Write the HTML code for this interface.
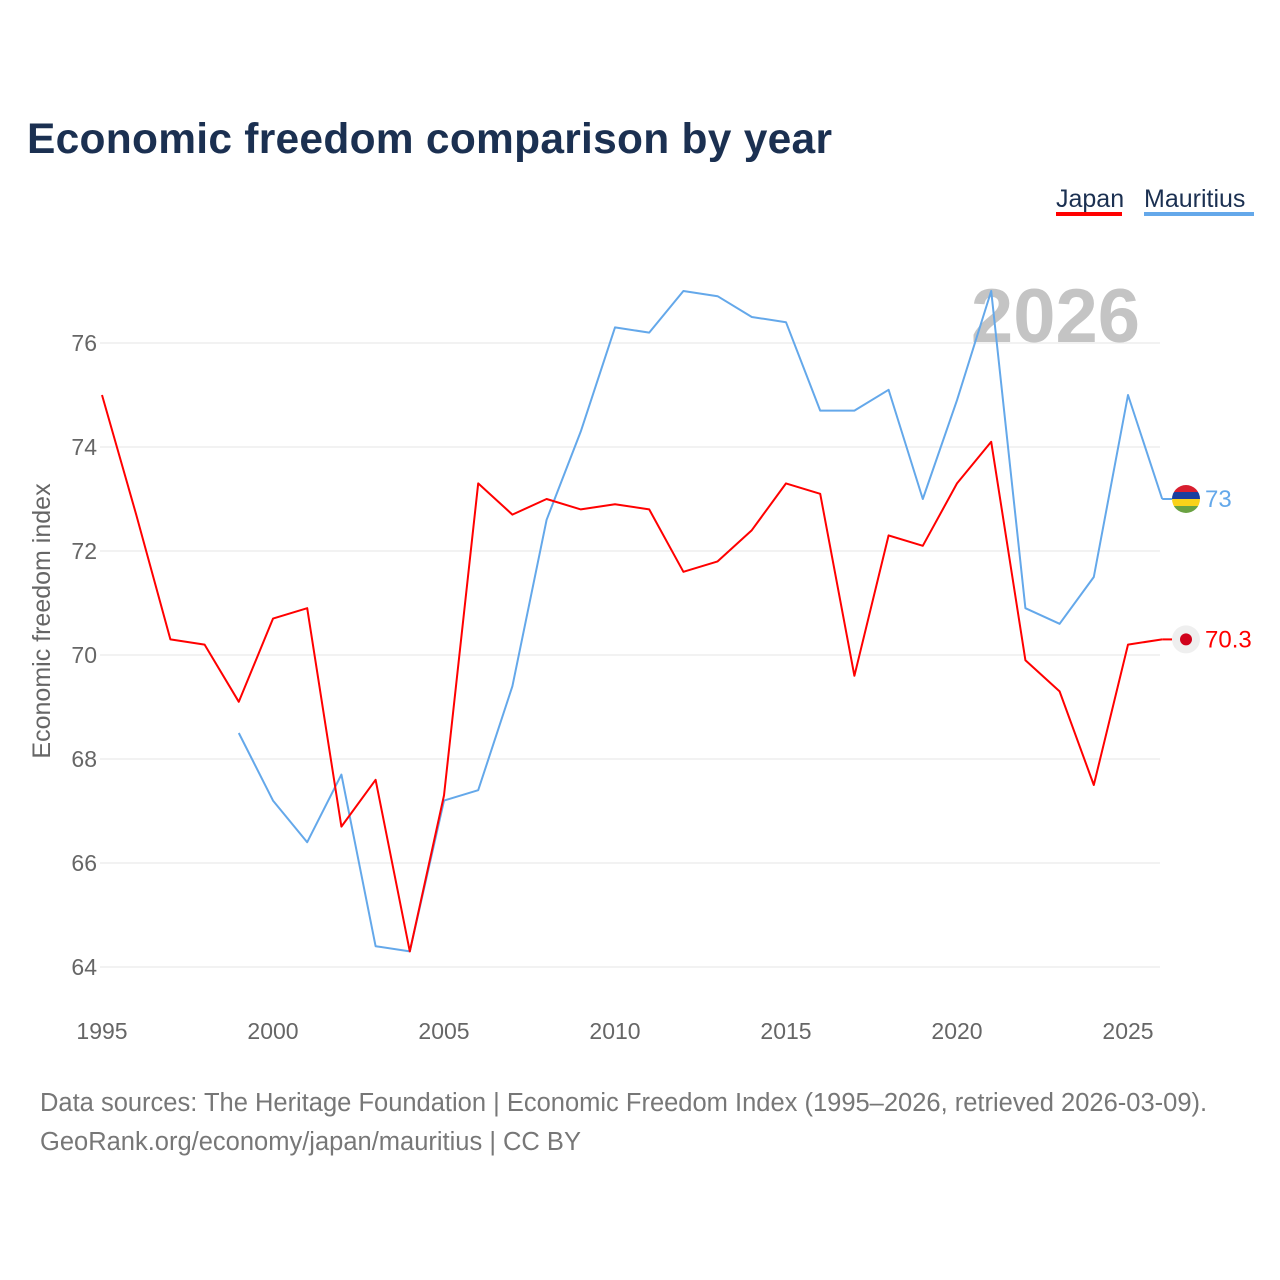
<!DOCTYPE html>
<html><head><meta charset="utf-8"><style>
body{margin:0;background:#fff;font-family:"Liberation Sans",sans-serif}
svg{display:block}
</style></head><body>
<svg id="c" width="1280" height="1280">
<defs><clipPath id="mc"><circle cx="1186" cy="0" r="14"/></clipPath></defs>
<text x="27" y="153" font-size="42.5" font-weight="bold" fill="#1b3051" textLength="805">Economic freedom comparison by year</text>
<g><text x="1056" y="207" font-size="25" fill="#1b3051">Japan</text><rect x="1056" y="212" width="66" height="4" fill="#ff0000"/></g>
<g><text x="1144" y="207" font-size="25" fill="#1b3051">Mauritius</text><rect x="1144" y="212" width="110" height="4" fill="#64a8ea"/></g>
<text x="1140" y="342" text-anchor="end" font-size="76" font-weight="bold" fill="#c4c4c4">2026</text>
<text transform="translate(50,621) rotate(-90)" text-anchor="middle" font-size="25" fill="#666">Economic freedom index</text>
<g id="grid"></g><g id="series"></g><g id="ends"></g>
<text x="40" y="1111" font-size="25.5" fill="#777">Data sources: The Heritage Foundation | Economic Freedom Index (1995–2026, retrieved 2026-03-09).</text>
<text x="40" y="1150" font-size="25.5" fill="#777">GeoRank.org/economy/japan/mauritius | CC BY</text>
</svg>
<script>
const years=[1995,1996,1997,1998,1999,2000,2001,2002,2003,2004,2005,2006,2007,2008,2009,2010,2011,2012,2013,2014,2015,2016,2017,2018,2019,2020,2021,2022,2023,2024,2025,2026];
const japan=[75.0,72.7,70.3,70.2,69.1,70.7,70.9,66.7,67.6,64.3,67.3,73.3,72.7,73.0,72.8,72.9,72.8,71.6,71.8,72.4,73.3,73.1,69.6,72.3,72.1,73.3,74.1,69.9,69.3,67.5,70.2,70.3];
const mauritius=[null,null,null,null,68.5,67.2,66.4,67.7,64.4,64.3,67.2,67.4,69.4,72.6,74.3,76.3,76.2,77.0,76.9,76.5,76.4,74.7,74.7,75.1,73.0,74.9,77.0,70.9,70.6,71.5,75.0,73.0];
const yTicks=[64,66,68,70,72,74,76];
const xTicks=[1995,2000,2005,2010,2015,2020,2025];
const X=y=>102+(y-1995)*34.2, Y=v=>967-(v-64)*52;
const NS="http://www.w3.org/2000/svg";
function mk(t,a,p){const e=document.createElementNS(NS,t);for(const k in a)e.setAttribute(k,a[k]);p.appendChild(e);return e;}
const g=document.getElementById('grid');
yTicks.forEach(v=>{
 const l=mk('line',{x1:100,x2:1160,y1:Y(v),y2:Y(v),stroke:'#e6e6e6','stroke-width':1},g);
 
 
 const t=mk('text',{x:97,y:Y(v)+8,'text-anchor':'end','font-size':23,fill:'#666'},g);t.textContent=v;
 
 
});
xTicks.forEach(v=>{
 const t=mk('text',{x:X(v),y:1039,'text-anchor':'middle','font-size':23,fill:'#666'},g);t.textContent=v;
 
 
});
const s=document.getElementById('series');
function line(vals,col,name){
 let d='';vals.forEach((v,i)=>{if(v==null)return;d+=(d?'L':'M')+X(years[i]).toFixed(1)+','+Y(v).toFixed(1);});
 const p=mk('path',{d:d,fill:'none',stroke:col,'stroke-width':2,'stroke-linejoin':'round'},s);
 
 
}
line(mauritius,'#64a8ea','mauritius-line');
line(japan,'#ff0000','japan-line');
const e=document.getElementById('ends');
const jl=japan[japan.length-1], ml=mauritius[mauritius.length-1];
const jy=Y(jl), my=Y(ml);
mk('line',{x1:X(2026),x2:1172,y1:my,y2:my,stroke:'#64a8ea','stroke-width':2},e);
mk('line',{x1:X(2026),x2:1172,y1:jy,y2:jy,stroke:'#ff0000','stroke-width':2},e);
const fg=mk('g',{transform:'translate(0,'+my+')'},e);


const cg=mk('g',{'clip-path':'url(#mc)'},fg);
[['#d81e2f',-14],['#1a3f9e',-7],['#f9d21a',0],['#6aa242',7]].forEach(([c,o])=>mk('rect',{x:1172,y:o,width:28,height:7,fill:c},cg));
const mt=mk('text',{x:1205,y:my+8,'font-size':24,fill:'#64a8ea'},e);mt.textContent=ml;


const jc=mk('circle',{cx:1186,cy:jy,r:14,fill:'#efefef'},e);


mk('circle',{cx:1186,cy:jy,r:6,fill:'#d0021b'},e);
const jt=mk('text',{x:1205,y:jy+8,'font-size':24,fill:'#ff0000'},e);jt.textContent=jl;


</script>
</body></html>
